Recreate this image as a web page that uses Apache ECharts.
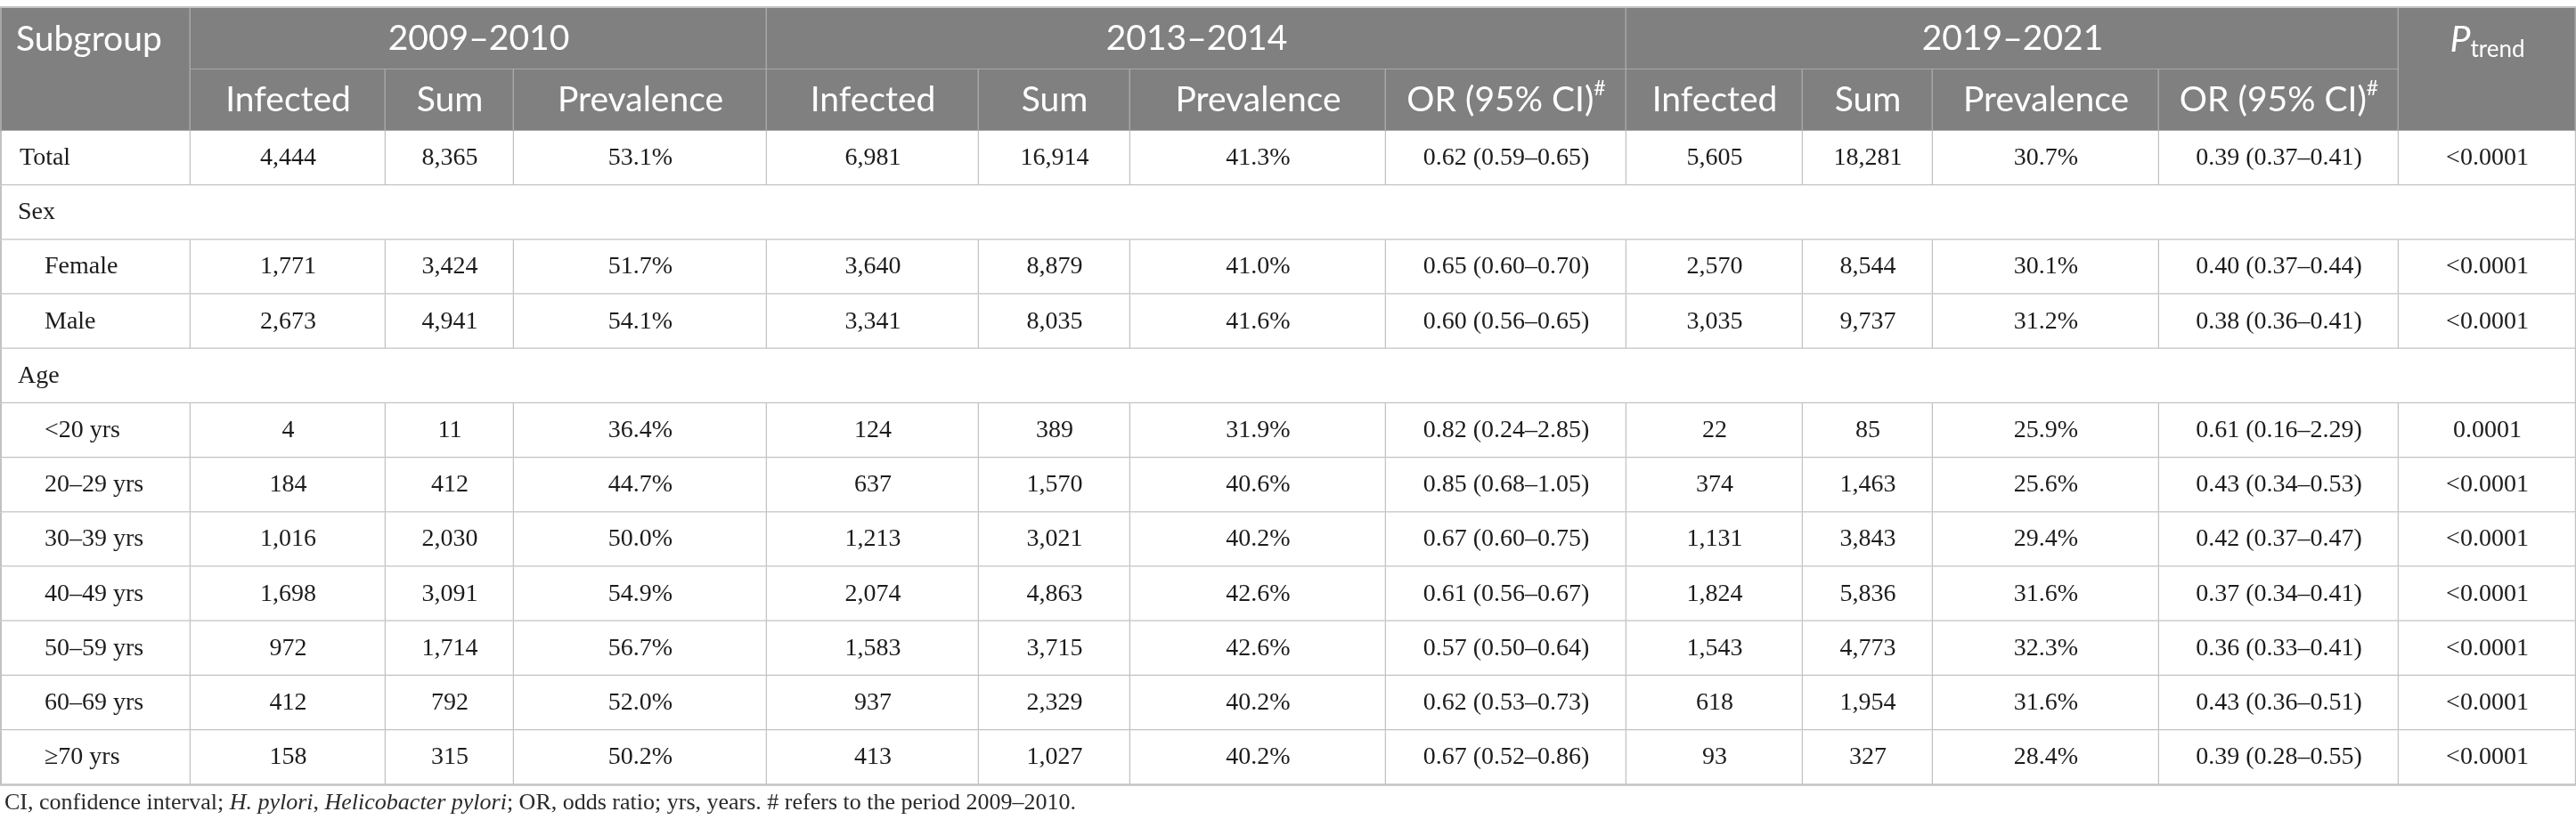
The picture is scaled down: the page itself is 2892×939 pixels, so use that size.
<!DOCTYPE html>
<html>
<head>
<meta charset="utf-8">
<script src="https://cdn.jsdelivr.net/npm/echarts@6/dist/echarts.min.js"></script>
<style>
  html, body { margin: 0; padding: 0; background: #fff; }
  #table { width: 2892px; height: 939px; }
</style>
</head>
<body>
<div id="table"></div>
<script>
// Table content
const periods = ["2009–2010", "2013–2014", "2019–2021"];
const subHeaders = ["Infected", "Sum", "Prevalence", "OR (95% CI)"];
const subgroups = ["Total", "Sex", "Female", "Male", "Age", "<20 yrs", "20–29 yrs",
  "30–39 yrs", "40–49 yrs", "50–59 yrs", "60–69 yrs", "≥70 yrs"];
// null = group heading row (Sex, Age)
const infected2009 = [4444, null, 1771, 2673, null, 4, 184, 1016, 1698, 972, 412, 158];
const sum2009 = [8365, null, 3424, 4941, null, 11, 412, 2030, 3091, 1714, 792, 315];
const prev2009 = [53.1, null, 51.7, 54.1, null, 36.4, 44.7, 50.0, 54.9, 56.7, 52.0, 50.2];
const infected2013 = [6981, null, 3640, 3341, null, 124, 637, 1213, 2074, 1583, 937, 413];
const sum2013 = [16914, null, 8879, 8035, null, 389, 1570, 3021, 4863, 3715, 2329, 1027];
const prev2013 = [41.3, null, 41.0, 41.6, null, 31.9, 40.6, 40.2, 42.6, 42.6, 40.2, 40.2];
const or2013 = [0.62, null, 0.65, 0.60, null, 0.82, 0.85, 0.67, 0.61, 0.57, 0.62, 0.67];
const orLow2013 = [0.59, null, 0.60, 0.56, null, 0.24, 0.68, 0.60, 0.56, 0.50, 0.53, 0.52];
const orHigh2013 = [0.65, null, 0.70, 0.65, null, 2.85, 1.05, 0.75, 0.67, 0.64, 0.73, 0.86];
const infected2019 = [5605, null, 2570, 3035, null, 22, 374, 1131, 1824, 1543, 618, 93];
const sum2019 = [18281, null, 8544, 9737, null, 85, 1463, 3843, 5836, 4773, 1954, 327];
const prev2019 = [30.7, null, 30.1, 31.2, null, 25.9, 25.6, 29.4, 31.6, 32.3, 31.6, 28.4];
const or2019 = [0.39, null, 0.40, 0.38, null, 0.61, 0.43, 0.42, 0.37, 0.36, 0.43, 0.39];
const orLow2019 = [0.37, null, 0.37, 0.36, null, 0.16, 0.34, 0.37, 0.34, 0.33, 0.36, 0.28];
const orHigh2019 = [0.41, null, 0.44, 0.41, null, 2.29, 0.53, 0.47, 0.41, 0.41, 0.51, 0.55];
const pTrend = ["<0.0001", null, "<0.0001", "<0.0001", null, "0.0001", "<0.0001",
  "<0.0001", "<0.0001", "<0.0001", "<0.0001", "<0.0001"];

// Layout (axis units)
const colWidths = [214, 219, 144, 284, 238, 170, 287, 270, 198, 146, 254, 269, 199];
const headRowHeight = 69;
const bodyRowHeight = 61.2;

const headFont = "Lato, 'Open Sans', sans-serif";
const bodyFont = "'Liberation Serif', 'DejaVu Serif', serif";
const headFill = "#7f807f";
const headLine = "#a7a7a7";
const bodyLine = "#c2c2c2";

const colEdges = [0];
colWidths.forEach(w => colEdges.push(colEdges[colEdges.length - 1] + w));
const tableWidth = colEdges[colEdges.length - 1];
const headHeight = headRowHeight * 2;
const tableHeight = headHeight + bodyRowHeight * subgroups.length;

function fmtInt(v) { return v.toLocaleString("en-US"); }
function fmtPct(v) { return v.toFixed(1) + "%"; }
function fmtOr(v, lo, hi) { return `${v.toFixed(2)} (${lo.toFixed(2)}–${hi.toFixed(2)})`; }

// Build cells: {c0, c1, y0, y1, text, head, align, textY}
const cells = [];

// header
cells.push({ c0: 0, c1: 1, y0: 0, y1: headHeight, head: true, align: "left",
  text: "{h|Subgroup}", textY: headRowHeight / 2 });
const periodCols = [[1, 4, 3], [4, 8, 4], [8, 12, 4]];
periods.forEach((p, i) => {
  const [a, b, n] = periodCols[i];
  cells.push({ c0: a, c1: b, y0: 0, y1: headRowHeight, head: true, align: "center",
    text: `{h|${p}}` });
  for (let k = 0; k < n; k++) {
    const label = subHeaders[k];
    const text = label.startsWith("OR") ? `{h|${label}}{sup|#}` : `{h|${label}}`;
    cells.push({ c0: a + k, c1: a + k + 1, y0: headRowHeight, y1: headHeight,
      head: true, align: "center", text: text });
  }
});
cells.push({ c0: 12, c1: 13, y0: 0, y1: headHeight, head: true, align: "center",
  text: "{p|P}{sub|trend}", textY: headRowHeight / 2 });

// body
let inGroup = false;
subgroups.forEach((name, r) => {
  const y0 = headHeight + r * bodyRowHeight;
  const y1 = y0 + bodyRowHeight;
  if (infected2009[r] == null) {
    inGroup = true;
    cells.push({ c0: 0, c1: 13, y0, y1, align: "left", indent: 20, text: name });
    return;
  }
  cells.push({ c0: 0, c1: 1, y0, y1, align: "left", indent: inGroup ? 50 : 22, text: name });
  const values = [
    fmtInt(infected2009[r]), fmtInt(sum2009[r]), fmtPct(prev2009[r]),
    fmtInt(infected2013[r]), fmtInt(sum2013[r]), fmtPct(prev2013[r]),
    fmtOr(or2013[r], orLow2013[r], orHigh2013[r]),
    fmtInt(infected2019[r]), fmtInt(sum2019[r]), fmtPct(prev2019[r]),
    fmtOr(or2019[r], orLow2019[r], orHigh2019[r]),
    pTrend[r]
  ];
  values.forEach((v, k) => {
    cells.push({ c0: k + 1, c1: k + 2, y0, y1, align: "center", text: v });
  });
});

const headRich = {
  h: { fontFamily: headFont, fontSize: 39, fill: "#fff", lineHeight: 48 },
  sup: { fontFamily: headFont, fontSize: 23, fill: "#fff", lineHeight: 20, verticalAlign: "top" },
  p: { fontFamily: headFont, fontSize: 41, fontStyle: "italic", fill: "#fff", lineHeight: 48 },
  sub: { fontFamily: headFont, fontSize: 26, fill: "#fff", lineHeight: 24, verticalAlign: "bottom" }
};

function renderCell(params, api) {
  const c = cells[params.dataIndex];
  const p0 = api.coord([colEdges[c.c0], c.y0]);
  const p1 = api.coord([colEdges[c.c1], c.y1]);
  const x = p0[0], y = p0[1];
  const w = p1[0] - p0[0], h = p1[1] - p0[1];
  const lineColor = c.head ? headLine : bodyLine;
  const children = [
    { type: "rect", shape: { x, y, width: w, height: h },
      style: { fill: c.head ? headFill : "#fff" } },
    { type: "line", shape: { x1: x + w - 0.5, y1: y, x2: x + w - 0.5, y2: y + h },
      style: { stroke: lineColor, lineWidth: c.head ? 2 : 1.5 } },
    { type: "line", shape: { x1: x, y1: y + h, x2: x + w, y2: y + h },
      style: { stroke: lineColor, lineWidth: c.head ? 2 : 2.5 } }
  ];
  if (c.c0 === 0) {
    children.push({ type: "line", shape: { x1: x + 1, y1: y, x2: x + 1, y2: y + h },
      style: { stroke: c.head ? headLine : bodyLine, lineWidth: 2 } });
  }
  if (c.y0 === 0) {
    children.push({ type: "line", shape: { x1: x, y1: y - 1, x2: x + w, y2: y - 1 },
      style: { stroke: "#c4c4c4", lineWidth: 2 } });
  }
  const ty = c.textY != null ? api.coord([0, c.y0 + c.textY])[1] + 1 : y + h / 2;
  const tx = c.align === "left" ? x + (c.indent != null ? c.indent : 18) : x + w / 2;
  children.push({
    type: "text",
    style: c.head ? {
      text: c.text, rich: headRich, x: tx, y: ty,
      align: c.align, verticalAlign: "middle"
    } : {
      text: c.text, x: tx, y: ty, fill: "#1c1c1c",
      fontFamily: bodyFont, fontSize: 28,
      align: c.align, verticalAlign: "middle"
    }
  });
  return { type: "group", children };
}

const chart = echarts.init(document.getElementById("table"), null, { renderer: "canvas" });
chart.setOption({
  animation: false,
  title: {
    left: 0,
    top: 884,
    text: "{n|CI, confidence interval; }{i|H. pylori}{n|, }{i|Helicobacter pylori}{n|; OR, odds ratio; yrs, years. # refers to the period 2009–2010.}",
    textStyle: {
      fontWeight: "normal",
      rich: {
        n: { fontFamily: bodyFont, fontSize: 26, fontWeight: "normal", color: "#2a2a2a" },
        i: { fontFamily: bodyFont, fontSize: 26, fontWeight: "normal", fontStyle: "italic", color: "#2a2a2a" }
      }
    }
  },
  grid: { left: 0, top: 9, width: tableWidth, height: tableHeight },
  xAxis: { type: "value", min: 0, max: tableWidth, show: false },
  yAxis: { type: "value", min: 0, max: tableHeight, inverse: true, show: false },
  series: [{
    type: "custom",
    clip: false,
    renderItem: renderCell,
    data: cells.map(c => [colEdges[c.c0], c.y0, colEdges[c.c1], c.y1]),
    encode: { x: [0, 2], y: [1, 3] }
  }]
});
</script>
</body>
</html>
